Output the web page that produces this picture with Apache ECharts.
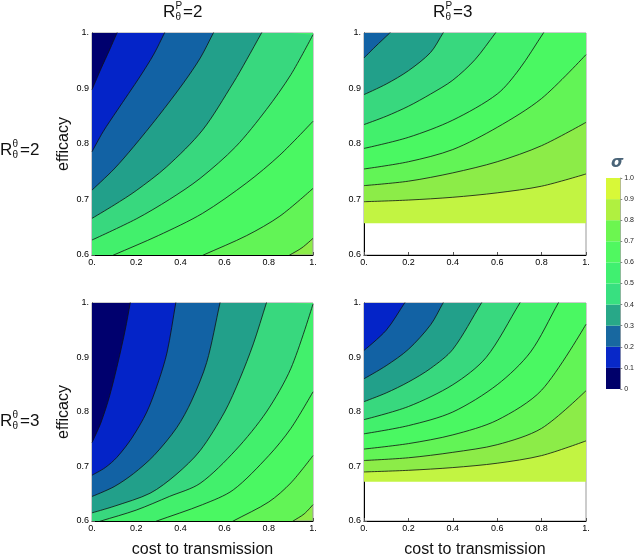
<!DOCTYPE html>
<html>
<head>
<meta charset="utf-8">
<script src="https://cdn.jsdelivr.net/npm/echarts@6/dist/echarts.min.js"></script>
</head>
<body style="margin:0">
<div id="container" style="width:637px;height:559px"></div>
<script>
// sigma bands, low (dark) -> high (yellow-green)
var bandColors = ['#00006e', '#0424c8', '#1262a4', '#22a08a', '#38d87e', '#42f06c', '#4af862', '#62f456', '#8cec48', '#c2f442'];
var legendColors = ['#00006a', '#0828c8', '#1868a0', '#28a888', '#38e080', '#40f070', '#50f860', '#6cf650', '#b0f040', '#d8f838'];
var legendTicks = [0, 0.1, 0.2, 0.3, 0.4, 0.5, 0.6, 0.7, 0.8, 0.9, 1.0];

// contour lines [cost, efficacy], listed from the low-sigma corner outwards
var contoursTL = [
  [[0, 0.898], [0.04, 0.935], [0.08, 0.97], [0.113, 1]],
  [[0, 0.786], [0.05, 0.822], [0.113, 0.86], [0.218, 0.922], [0.28, 0.962], [0.328, 1]],
  [[0, 0.717], [0.1, 0.755], [0.188, 0.795], [0.3, 0.85], [0.414, 0.91], [0.49, 0.955], [0.549, 1]],
  [[0, 0.666], [0.1, 0.69], [0.2, 0.716], [0.338, 0.759], [0.5, 0.825], [0.639, 0.91], [0.7, 0.952], [0.767, 1]],
  [[0, 0.627], [0.2, 0.665], [0.35, 0.7], [0.489, 0.738], [0.65, 0.795], [0.789, 0.862], [0.9, 0.925], [1, 0.997]],
  [[0.098, 0.6], [0.3, 0.635], [0.5, 0.675], [0.7, 0.73], [0.85, 0.78], [1, 0.841]],
  [[0.504, 0.6], [0.7, 0.635], [0.85, 0.67], [1, 0.72]],
  [[0.895, 0.6], [0.95, 0.613], [1, 0.63]]
];
var contoursTR = [
  [[0, 0.955], [0.05, 0.975], [0.116, 1]],
  [[0, 0.889], [0.1, 0.908], [0.2, 0.932], [0.3, 0.965], [0.356, 1]],
  [[0, 0.835], [0.1, 0.85], [0.2, 0.868], [0.3, 0.89], [0.4, 0.915], [0.5, 0.952], [0.592, 1]],
  [[0, 0.792], [0.2, 0.812], [0.4, 0.843], [0.6, 0.89], [0.7, 0.935], [0.808, 1]],
  [[0, 0.755], [0.2, 0.768], [0.4, 0.79], [0.6, 0.83], [0.8, 0.882], [1, 0.961]],
  [[0, 0.725], [0.2, 0.733], [0.4, 0.748], [0.6, 0.768], [0.8, 0.797], [1, 0.839]],
  [[0, 0.696], [0.2, 0.699], [0.4, 0.704], [0.6, 0.712], [0.8, 0.724], [1, 0.746]]
];
var contoursBL = [
  [[0, 0.744], [0.04, 0.78], [0.08, 0.83], [0.12, 0.895], [0.15, 0.95], [0.173, 1]],
  [[0, 0.684], [0.06, 0.698], [0.113, 0.717], [0.18, 0.752], [0.248, 0.8], [0.3, 0.855], [0.34, 0.91], [0.379, 1]],
  [[0, 0.645], [0.1, 0.663], [0.188, 0.687], [0.28, 0.72], [0.383, 0.771], [0.45, 0.82], [0.519, 0.891], [0.579, 1]],
  [[0, 0.615], [0.1, 0.627], [0.263, 0.651], [0.38, 0.685], [0.489, 0.729], [0.6, 0.8], [0.669, 0.861], [0.73, 0.925], [0.789, 1]],
  [[0.04, 0.6], [0.2, 0.62], [0.35, 0.645], [0.489, 0.669], [0.65, 0.73], [0.789, 0.8], [0.9, 0.88], [1, 0.998]],
  [[0.293, 0.6], [0.5, 0.63], [0.639, 0.657], [0.8, 0.72], [0.9, 0.77], [1, 0.837]],
  [[0.639, 0.6], [0.8, 0.635], [0.9, 0.67], [1, 0.72]],
  [[0.91, 0.6], [0.96, 0.613], [1, 0.63]]
];
var contoursBR = [
  [[0, 0.913], [0.1, 0.95], [0.183, 1]],
  [[0, 0.861], [0.1, 0.885], [0.2, 0.915], [0.3, 0.96], [0.356, 1]],
  [[0, 0.819], [0.1, 0.835], [0.2, 0.855], [0.3, 0.88], [0.4, 0.915], [0.529, 1]],
  [[0, 0.786], [0.2, 0.81], [0.4, 0.85], [0.55, 0.9], [0.702, 1]],
  [[0, 0.76], [0.2, 0.775], [0.4, 0.8], [0.6, 0.85], [0.75, 0.91], [0.875, 1]],
  [[0, 0.732], [0.2, 0.742], [0.4, 0.758], [0.6, 0.785], [0.8, 0.84], [1, 0.961]],
  [[0, 0.711], [0.2, 0.716], [0.4, 0.726], [0.6, 0.74], [0.8, 0.77], [1, 0.839]],
  [[0, 0.69], [0.2, 0.693], [0.4, 0.698], [0.6, 0.706], [0.8, 0.72], [1, 0.747]]
];
// band index at the low-sigma corner, and lower edge of the defined region
var cornerBand = [0, 2, 0, 1];
var floorLevel = [null, 0.657, null, 0.672];
var allContours = [contoursTL, contoursTR, contoursBL, contoursBR];

var dom = document.getElementById('container');
var myChart = echarts.init(dom);
var FONT = 'Liberation Sans';

var gridPos = [
  {left: 92, top: 33, width: 221, height: 222},
  {left: 364, top: 33, width: 222, height: 222},
  {left: 92, top: 303, width: 221, height: 222},
  {left: 364, top: 303, width: 222, height: 222}
];

function isOne(v) { return Math.abs(v - 1) < 1e-9; }

// carry a line that meets the top/bottom edge a bit past the frame, so the clip cuts it
function runOff(pts) {
  var out = pts.slice();
  var a = out[0], b = out[1];
  if (a[0] > 0) {
    var s = [a[0] - (b[0] - a[0]), a[1] - (b[1] - a[1])];
    out.unshift(s);
    out.unshift([-0.5, s[1]]);
  }
  var n = out.length, p = out[n - 2], q = out[n - 1];
  if (q[0] < 1) {
    var e = [q[0] + (q[0] - p[0]), q[1] + (q[1] - p[1])];
    out.push(e);
    out.push([1.5, e[1]]);
  }
  return out;
}

var grids = [], xAxes = [], yAxes = [], series = [];
for (var i = 0; i < 4; i++) {
  var cs = allContours[i];
  var bg = floorLevel[i] == null ? bandColors[cornerBand[i] + cs.length] : '#ffffff';
  grids.push(Object.assign({show: true, backgroundColor: bg, borderColor: '#999', borderWidth: 1}, gridPos[i]));
  xAxes.push({
    gridIndex: i, type: 'value', min: 0, max: 1, interval: 0.2,
    name: i >= 2 ? 'cost to transmission' : '', nameLocation: 'middle', nameGap: 21,
    nameTextStyle: {fontFamily: FONT, fontSize: 16, color: '#111'},
    axisLine: {lineStyle: {color: '#000', width: 1}},
    axisTick: {inside: true, length: 3, lineStyle: {color: '#555'}},
    axisLabel: {fontFamily: FONT, fontSize: 9, color: '#000', margin: 3,
      formatter: function (v) { return v === 0 ? '0.' : isOne(v) ? '1.' : v.toFixed(1); }},
    splitLine: {show: false}
  });
  yAxes.push({
    gridIndex: i, type: 'value', min: 0.6, max: 1, interval: 0.1,
    name: i % 2 === 0 ? 'efficacy' : '', nameLocation: 'middle', nameGap: 20,
    nameTextStyle: {fontFamily: FONT, fontSize: 16, color: '#111'},
    axisLine: {lineStyle: {color: '#000', width: 1}},
    axisTick: {inside: true, length: 3, lineStyle: {color: '#555'}},
    axisLabel: {fontFamily: FONT, fontSize: 9, color: '#000', margin: 3,
      formatter: function (v) { return isOne(v) ? '1.' : v.toFixed(1); }},
    splitLine: {show: false}
  });
  if (floorLevel[i] != null) {
    series.push({
      type: 'line', xAxisIndex: i, yAxisIndex: i, silent: true, symbol: 'none',
      data: [[0, floorLevel[i]], [1, floorLevel[i]]],
      lineStyle: {width: 0, opacity: 0},
      areaStyle: {origin: 'end', color: bandColors[cornerBand[i] + cs.length], opacity: 1}
    });
  }
  for (var k = cs.length - 1; k >= 0; k--) {
    var path = runOff(cs[k]);
    // filled band (no stroke, so the clip stays tight to the frame)
    series.push({
      type: 'line', xAxisIndex: i, yAxisIndex: i, silent: true, symbol: 'none',
      smooth: 0.3, data: path,
      lineStyle: {width: 0, opacity: 0},
      areaStyle: {origin: 'end', color: bandColors[cornerBand[i] + k], opacity: 1}
    });
    // contour stroke
    series.push({
      type: 'line', xAxisIndex: i, yAxisIndex: i, silent: true, symbol: 'none', z: 3,
      smooth: 0.3, data: path,
      lineStyle: {color: '#111', width: 0.8}
    });
  }
}

// colour legend
grids.push({left: 606, top: 178, width: 18, height: 211});
xAxes.push({gridIndex: 4, type: 'category', data: ['σ'], show: false});
yAxes.push({
  gridIndex: 4, type: 'value', min: 0, max: 1, interval: 0.1, position: 'right',
  axisLine: {show: true, lineStyle: {color: '#aaa'}},
  axisTick: {show: true, length: 2, lineStyle: {color: '#888'}},
  axisLabel: {fontFamily: FONT, fontSize: 7, color: '#222', margin: 4,
    formatter: function (v) { return v === 0 ? '0' : v.toFixed(1); }},
  splitLine: {show: false}
});
for (var j = 0; j < legendColors.length; j++) {
  series.push({
    type: 'bar', xAxisIndex: 4, yAxisIndex: 4, stack: 'legend', barWidth: '100%', silent: true,
    data: [+(legendTicks[j + 1] - legendTicks[j]).toFixed(2)],
    itemStyle: {color: legendColors[j]}
  });
}

// R labels with stacked super/subscripts
function rLabel(x, y, sup, val) {
  return [
    {type: 'text', left: x, top: y, style: {text: 'R', font: '17px ' + FONT, fill: '#111'}},
    {type: 'text', left: x + 12.5, top: y - 3, style: {text: sup, font: '10px ' + FONT, fill: '#111'}},
    {type: 'text', left: x + 12.5, top: y + 8, style: {text: 'θ', font: '10px ' + FONT, fill: '#111'}},
    {type: 'text', left: x + 20, top: y, style: {text: '=' + val, font: '17px ' + FONT, fill: '#111'}}
  ];
}
var graphics = [].concat(
  rLabel(163, 4, 'P', 2),
  rLabel(433, 4, 'P', 3),
  rLabel(0, 142, 'θ', 2),
  rLabel(0, 413, 'θ', 3),
  [{type: 'text', left: 611, top: 155, style: {text: 'σ', font: 'italic bold 16px DejaVu Sans', fill: '#4a6478'}}]
);

var option = {
  animation: false,
  grid: grids,
  xAxis: xAxes,
  yAxis: yAxes,
  series: series,
  graphic: graphics
};
myChart.setOption(option);
</script>
</body>
</html>
